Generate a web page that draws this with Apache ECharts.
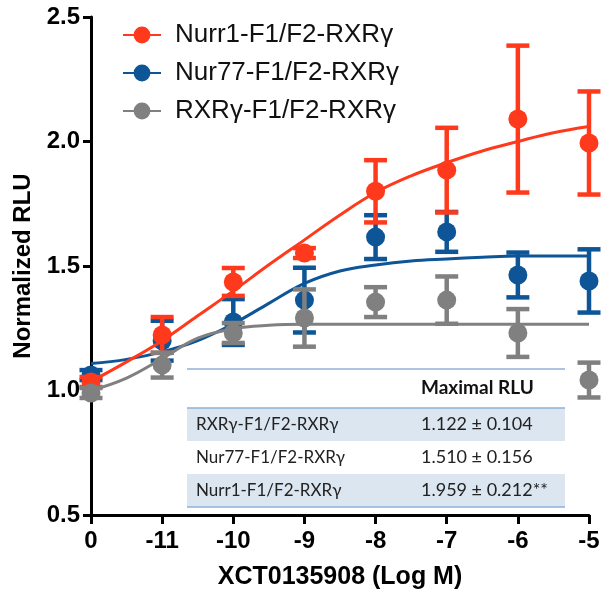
<!DOCTYPE html>
<html>
<head>
<meta charset="utf-8">
<script src="https://cdn.jsdelivr.net/npm/echarts@6/dist/echarts.min.js"></script>
<style>html,body{margin:0;padding:0;background:#fff}#c{width:612px;height:605px}</style>
</head>
<body>
<div id="c"></div>
<script>
// ---- data ----
const xLabels = ['0', '-11', '-10', '-9', '-8', '-7', '-6', '-5'];
const yTicks = [0.5, 1.0, 1.5, 2.0, 2.5];
const seriesNames = ['Nurr1-F1/F2-RXRγ', 'Nur77-F1/F2-RXRγ', 'RXRγ-F1/F2-RXRγ'];

const nurr1Mean = [1.034, 1.223, 1.436, 1.552, 1.800, 1.885, 2.090, 1.994];
const nurr1Err  = [0.020, 0.072, 0.056, 0.020, 0.125, 0.170, 0.295, 0.207];
const nur77Mean = [1.062, 1.200, 1.275, 1.363, 1.616, 1.637, 1.464, 1.440];
const nur77Err  = [0.020, 0.080, 0.092, 0.130, 0.088, 0.080, 0.090, 0.127];
const rxrMean   = [0.990, 1.102, 1.231, 1.291, 1.355, 1.363, 1.231, 1.042];
const rxrErr    = [0.020, 0.050, 0.040, 0.115, 0.060, 0.095, 0.096, 0.070];

// fitted curves (x positions in axis index units)
const fitX     = [0, 0.5, 1, 1.5, 2, 2.5, 3, 3.5, 4, 4.5, 5, 5.5, 6, 6.5, 7];
const nurr1Fit = [1.036, 1.115, 1.200, 1.300, 1.400, 1.505, 1.605, 1.705, 1.795, 1.862, 1.915, 1.962, 2.000, 2.035, 2.060];
const nur77Fit = [1.108, 1.125, 1.155, 1.200, 1.268, 1.350, 1.430, 1.480, 1.504, 1.520, 1.528, 1.535, 1.540, 1.540, 1.540];
const rxrFit   = [1.000, 1.050, 1.128, 1.210, 1.248, 1.262, 1.266, 1.266, 1.266, 1.266, 1.266, 1.266, 1.266, 1.266, 1.266];

const tableHeader = 'Maximal RLU';
const tableNames  = ['RXRγ-F1/F2-RXRγ', 'Nur77-F1/F2-RXRγ', 'Nurr1-F1/F2-RXRγ'];
const tableValues = ['1.122 ± 0.104', '1.510 ± 0.156', '1.959 ± 0.212**'];

const xTitle = 'XCT0135908 (Log M)';
const yTitle = 'Normalized RLU';

// ---- styles ----
const colors = ['#ff3a1c', '#0d5597', '#808080'];
const zBase = [20, 10, 30];

const chart = echarts.init(document.getElementById('c'), null, {renderer: 'canvas'});

function errSeries(mean, err, color, z) {
  return {
    type: 'custom',
    z: z,
    silent: true,
    data: mean.map((m, i) => [i, m, err[i]]),
    renderItem: function (params, api) {
      const x = api.value(0), m = api.value(1), e = api.value(2);
      const t = api.coord([x, m + e]);
      const b = api.coord([x, m - e]);
      const hw = 11.5;
      const st = {stroke: color, lineWidth: 4.5};
      return {
        type: 'group',
        children: [
          {type: 'line', shape: {x1: t[0], y1: t[1], x2: b[0], y2: b[1]}, style: st},
          {type: 'line', shape: {x1: t[0] - hw, y1: t[1], x2: t[0] + hw, y2: t[1]}, style: st},
          {type: 'line', shape: {x1: b[0] - hw, y1: b[1], x2: b[0] + hw, y2: b[1]}, style: st}
        ]
      };
    }
  };
}

const means = [nurr1Mean, nur77Mean, rxrMean];
const errs = [nurr1Err, nur77Err, rxrErr];
const fits = [nurr1Fit, nur77Fit, rxrFit];

const series = [];
for (let k = 0; k < 3; k++) {
  series.push({
    name: seriesNames[k],
    type: 'line',
    z: zBase[k] + 2,
    smooth: 0.4,
    showSymbol: false,
    symbol: 'circle',
    symbolSize: 19,
    silent: true,
    itemStyle: {color: colors[k]},
    lineStyle: {color: colors[k], width: 3},
    data: fitX.map((x, i) => [x, fits[k][i]])
  });
  series.push(errSeries(means[k], errs[k], colors[k], zBase[k]));
  series.push({
    name: seriesNames[k] + ' pts',
    type: 'scatter',
    z: zBase[k] + 1,
    symbol: 'circle',
    symbolSize: 19,
    silent: true,
    itemStyle: {color: colors[k], opacity: 1},
    data: means[k].map((m, i) => [i, m])
  });
}

const graphics = [];
const tL = 187, tR = 565, lineC = '#8fb0d8', bandC = '#dce6f1';
const rowTop = [408, 441, 474];
const rowH = 33;
graphics.push({type: 'rect', shape: {x: tL, y: rowTop[0], width: tR - tL, height: rowH}, style: {fill: bandC}, z: 1});
graphics.push({type: 'rect', shape: {x: tL, y: rowTop[2], width: tR - tL, height: rowH}, style: {fill: bandC}, z: 1});
graphics.push({type: 'line', shape: {x1: tL, y1: 369, x2: tR, y2: 369}, style: {stroke: lineC, lineWidth: 1.5}, z: 2});
graphics.push({type: 'line', shape: {x1: tL, y1: 408, x2: tR, y2: 408}, style: {stroke: lineC, lineWidth: 1.5}, z: 2});
graphics.push({type: 'line', shape: {x1: tL, y1: 507, x2: tR, y2: 507}, style: {stroke: lineC, lineWidth: 1.5}, z: 2});
graphics.push({type: 'text', x: 421, y: 388, z: 3, style: {text: tableHeader, font: 'bold 19px Lato', fill: '#111', textVerticalAlign: 'middle'}});
for (let r = 0; r < 3; r++) {
  const cy = rowTop[r] + rowH / 2;
  graphics.push({type: 'text', x: 196, y: cy, z: 3, style: {text: tableNames[r], font: '17px Lato', fill: '#222', textVerticalAlign: 'middle'}});
  graphics.push({type: 'text', x: 421, y: cy, z: 3, style: {text: tableValues[r], font: '18px Lato', fill: '#222', textVerticalAlign: 'middle'}});
}

chart.setOption({
  animation: false,
  backgroundColor: '#fff',
  grid: {left: 91, right: 23, top: 17, bottom: 90, containLabel: false},
  legend: {
    data: seriesNames,
    orient: 'vertical',
    left: 117,
    top: 17,
    itemWidth: 38,
    itemHeight: 21,
    itemGap: 12,
    selectedMode: false,
    textStyle: {fontSize: 26, fontFamily: 'Liberation Sans, Arial, sans-serif', color: '#111', padding: [0, 0, 0, 9]}
  },
  xAxis: {
    type: 'value', min: 0, max: 7, interval: 1,
    name: xTitle, nameLocation: 'middle', nameGap: 50,
    nameTextStyle: {fontSize: 25, fontWeight: 'bold', fontFamily: 'Liberation Sans, Arial, sans-serif', color: '#000'},
    axisLine: {show: true, onZero: false, lineStyle: {color: '#000', width: 3}},
    axisTick: {show: true, length: 9, lineStyle: {color: '#000', width: 3}},
    axisLabel: {
      margin: 14, fontSize: 24, fontWeight: 'bold', fontFamily: 'Liberation Sans, Arial, sans-serif', color: '#000',
      formatter: v => xLabels[Math.round(v)] || ''
    },
    splitLine: {show: false}
  },
  yAxis: {
    type: 'value', min: 0.5, max: 2.5, interval: 0.5,
    name: yTitle, nameLocation: 'middle', nameGap: 55, nameRotate: 90,
    nameTextStyle: {fontSize: 24, fontWeight: 'bold', fontFamily: 'Liberation Sans, Arial, sans-serif', color: '#000'},
    axisLine: {show: true, onZero: false, lineStyle: {color: '#000', width: 3}},
    axisTick: {show: true, length: 8, lineStyle: {color: '#000', width: 3}},
    axisLabel: {
      margin: 11, fontSize: 24, fontWeight: 'bold', fontFamily: 'Liberation Sans, Arial, sans-serif', color: '#000',
      formatter: v => (yTicks.find(t => Math.abs(t - v) < 1e-6) || v).toFixed(1)
    },
    splitLine: {show: false}
  },
  graphic: graphics,
  series: series
});
</script>
</body>
</html>
